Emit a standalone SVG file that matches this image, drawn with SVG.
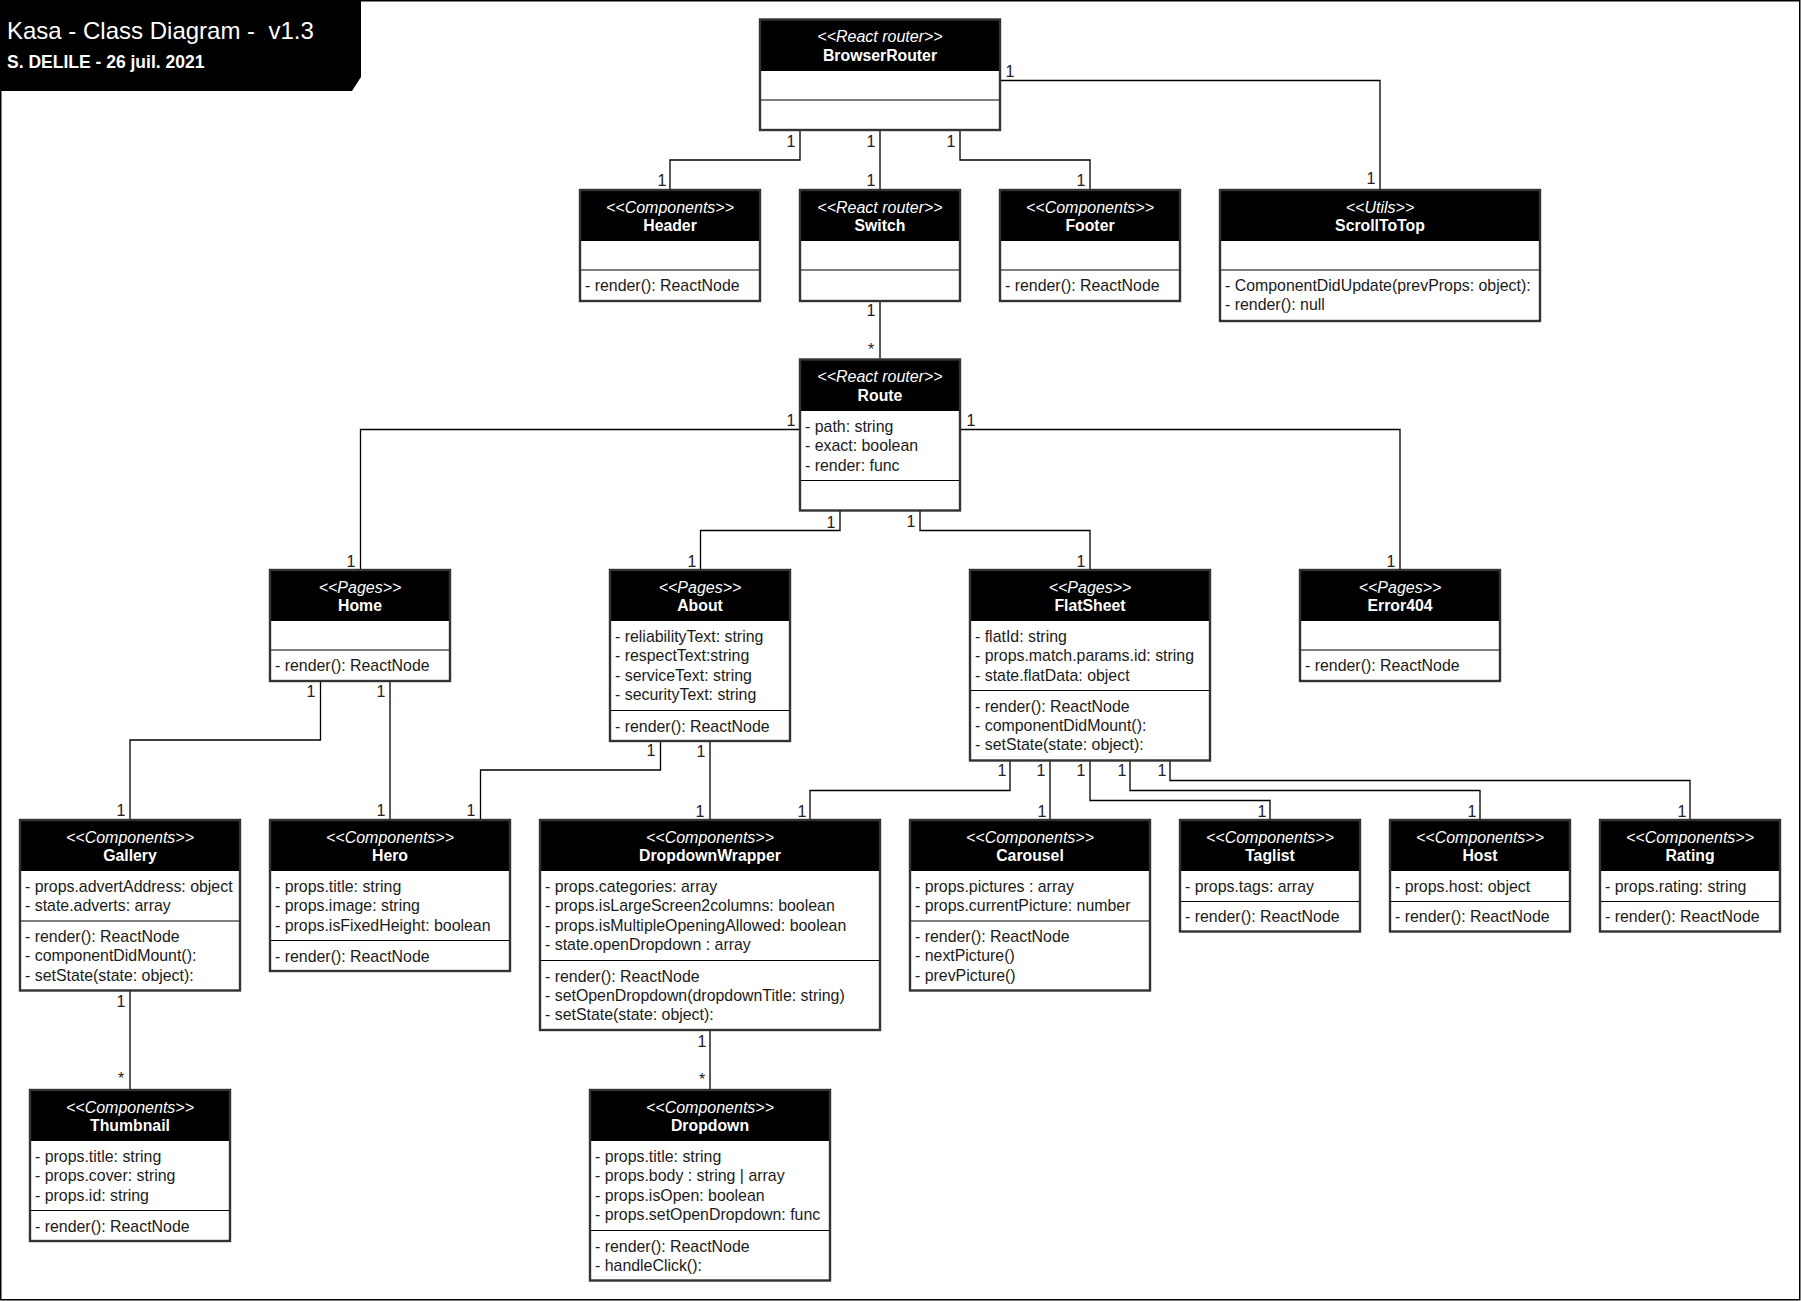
<svg xmlns="http://www.w3.org/2000/svg" width="1801" height="1301" viewBox="0 0 1801 1301">
  <style>
    .frame { fill: #fff; stroke: #000; stroke-width: 1.5; }
    .body { fill: #fff; }
    .hd { fill: #000; }
    .edge { fill: none; stroke: #333; stroke-width: 2.4; }
    .sep { stroke: #000; stroke-width: 1.2; }
    .st { font-family: "Liberation Sans", Arial, sans-serif; font-size: 16px; font-style: italic; fill: #fff; text-anchor: middle; }
    .nm { font-family: "Liberation Sans", Arial, sans-serif; font-size: 15.8px; font-weight: bold; fill: #fff; text-anchor: middle; }
    .mb { font-family: "Liberation Sans", Arial, sans-serif; font-size: 15.9px; fill: #1a1a1a; }
    .conn polyline { fill: none; stroke: #000; stroke-width: 1.3; }
    .mult { font-family: "Liberation Sans", Arial, sans-serif; font-size: 16px; fill: #222; text-anchor: middle; }
    .ttl { font-family: "Liberation Sans", Arial, sans-serif; fill: #fff; }
  </style>

  <!-- canvas frame -->
  <rect class="frame" x="0.75" y="0.75" width="1799" height="1299"/>

  <!-- title block -->
  <g id="title">
    <polygon points="0,0 361,0 361,77 352,91 0,91" fill="#000"/>
    <text class="ttl" x="7" y="39" font-size="24" xml:space="preserve">Kasa - Class Diagram -  v1.3</text>
    <text class="ttl" x="7" y="68" font-size="17.5" font-weight="bold">S. DELILE - 26 juil. 2021</text>
  </g>

  <!-- associations -->
  <g id="connectors" class="conn">
    <polyline points="800,130 800,160 670,160 670,190"/>
    <polyline points="880,130 880,190"/>
    <polyline points="960,130 960,160 1090,160 1090,190"/>
    <polyline points="1000,80.5 1380,80.5 1380,190"/>
    <polyline points="880,301 880,359.5"/>
    <polyline points="800,429.5 360.5,429.5 360.5,570"/>
    <polyline points="840,510.5 840,530.5 700.5,530.5 700.5,570"/>
    <polyline points="920,510.5 920,530.5 1090,530.5 1090,570"/>
    <polyline points="960,429.5 1400,429.5 1400,570"/>
    <polyline points="320.5,681 320.5,740 130,740 130,820"/>
    <polyline points="390,681 390,820"/>
    <polyline points="660.5,741 660.5,770 480.5,770 480.5,820"/>
    <polyline points="710,741 710,820"/>
    <polyline points="1010,760.5 1010,790.5 810,790.5 810,820"/>
    <polyline points="1050,760.5 1050,820"/>
    <polyline points="1090,760.5 1090,800.5 1270,800.5 1270,820"/>
    <polyline points="1130,760.5 1130,790.5 1480,790.5 1480,820"/>
    <polyline points="1170,760.5 1170,780.5 1690,780.5 1690,820"/>
    <polyline points="130,990.5 130,1090"/>
    <polyline points="710,1030 710,1090"/>

    <!-- multiplicities -->
    <text class="mult" x="791" y="147">1</text>
    <text class="mult" x="662" y="186">1</text>
    <text class="mult" x="871" y="147">1</text>
    <text class="mult" x="871" y="186">1</text>
    <text class="mult" x="951" y="147">1</text>
    <text class="mult" x="1081" y="186">1</text>
    <text class="mult" x="1010" y="77">1</text>
    <text class="mult" x="1371" y="184">1</text>
    <text class="mult" x="871" y="316">1</text>
    <text class="mult" x="871" y="355">*</text>
    <text class="mult" x="791" y="426">1</text>
    <text class="mult" x="351" y="567">1</text>
    <text class="mult" x="831" y="528">1</text>
    <text class="mult" x="692" y="567">1</text>
    <text class="mult" x="911" y="527">1</text>
    <text class="mult" x="1081" y="567">1</text>
    <text class="mult" x="971" y="426">1</text>
    <text class="mult" x="1391" y="567">1</text>
    <text class="mult" x="311" y="697">1</text>
    <text class="mult" x="121" y="816">1</text>
    <text class="mult" x="381" y="697">1</text>
    <text class="mult" x="381" y="816">1</text>
    <text class="mult" x="651" y="756">1</text>
    <text class="mult" x="471" y="816">1</text>
    <text class="mult" x="701" y="757">1</text>
    <text class="mult" x="700" y="817">1</text>
    <text class="mult" x="1002" y="776">1</text>
    <text class="mult" x="802" y="817">1</text>
    <text class="mult" x="1041" y="776">1</text>
    <text class="mult" x="1042" y="817">1</text>
    <text class="mult" x="1081" y="776">1</text>
    <text class="mult" x="1262" y="817">1</text>
    <text class="mult" x="1122" y="776">1</text>
    <text class="mult" x="1472" y="817">1</text>
    <text class="mult" x="1162" y="776">1</text>
    <text class="mult" x="1682" y="817">1</text>
    <text class="mult" x="121" y="1007">1</text>
    <text class="mult" x="121" y="1084">*</text>
    <text class="mult" x="702" y="1047">1</text>
    <text class="mult" x="702" y="1085">*</text>
  </g>

  <!-- BrowserRouter -->
  <g id="BrowserRouter">
    <rect class="body" x="760" y="19.5" width="240" height="110.5"/>
    <rect class="hd" x="760" y="19.5" width="240" height="51.5"/>
    <line class="sep" x1="760" y1="100" x2="1000" y2="100"/>
    <rect class="edge" x="760" y="19.5" width="240" height="110.5"/>
    <text class="st" x="880" y="42">&lt;&lt;React router&gt;&gt;</text>
    <text class="nm" x="880" y="61">BrowserRouter</text>
  </g>

  <!-- Header -->
  <g id="Header">
    <rect class="body" x="580" y="190" width="180" height="111"/>
    <rect class="hd" x="580" y="190" width="180" height="51"/>
    <line class="sep" x1="580" y1="270" x2="760" y2="270"/>
    <rect class="edge" x="580" y="190" width="180" height="111"/>
    <text class="st" x="670" y="212.7">&lt;&lt;Components&gt;&gt;</text>
    <text class="nm" x="670" y="231.3">Header</text>
    <text class="mb" x="585" y="291">- render(): ReactNode</text>
  </g>

  <!-- Switch -->
  <g id="Switch">
    <rect class="body" x="800" y="190" width="160" height="111"/>
    <rect class="hd" x="800" y="190" width="160" height="51"/>
    <line class="sep" x1="800" y1="270" x2="960" y2="270"/>
    <rect class="edge" x="800" y="190" width="160" height="111"/>
    <text class="st" x="880" y="212.7">&lt;&lt;React router&gt;&gt;</text>
    <text class="nm" x="880" y="231.3">Switch</text>
  </g>

  <!-- Footer -->
  <g id="Footer">
    <rect class="body" x="1000" y="190" width="180" height="111"/>
    <rect class="hd" x="1000" y="190" width="180" height="51"/>
    <line class="sep" x1="1000" y1="270" x2="1180" y2="270"/>
    <rect class="edge" x="1000" y="190" width="180" height="111"/>
    <text class="st" x="1090" y="212.7">&lt;&lt;Components&gt;&gt;</text>
    <text class="nm" x="1090" y="231.3">Footer</text>
    <text class="mb" x="1005" y="291">- render(): ReactNode</text>
  </g>

  <!-- ScrollToTop -->
  <g id="ScrollToTop">
    <rect class="body" x="1220" y="190" width="320" height="131"/>
    <rect class="hd" x="1220" y="190" width="320" height="51"/>
    <line class="sep" x1="1220" y1="270" x2="1540" y2="270"/>
    <rect class="edge" x="1220" y="190" width="320" height="131"/>
    <text class="st" x="1380" y="212.7">&lt;&lt;Utils&gt;&gt;</text>
    <text class="nm" x="1380" y="231.3">ScrollToTop</text>
    <text class="mb" x="1225" y="291">- ComponentDidUpdate(prevProps: object):</text>
    <text class="mb" x="1225" y="310.3">- render(): null</text>
  </g>

  <!-- Route -->
  <g id="Route">
    <rect class="body" x="800" y="359.5" width="160" height="151"/>
    <rect class="hd" x="800" y="359.5" width="160" height="51.5"/>
    <line class="sep" x1="800" y1="480.5" x2="960" y2="480.5"/>
    <rect class="edge" x="800" y="359.5" width="160" height="151"/>
    <text class="st" x="880" y="382.2">&lt;&lt;React router&gt;&gt;</text>
    <text class="nm" x="880" y="400.8">Route</text>
    <text class="mb" x="805" y="432">- path: string</text>
    <text class="mb" x="805" y="451.3">- exact: boolean</text>
    <text class="mb" x="805" y="470.6">- render: func</text>
  </g>

  <!-- Home -->
  <g id="Home">
    <rect class="body" x="270" y="570" width="180" height="111"/>
    <rect class="hd" x="270" y="570" width="180" height="51"/>
    <line class="sep" x1="270" y1="650" x2="450" y2="650"/>
    <rect class="edge" x="270" y="570" width="180" height="111"/>
    <text class="st" x="360" y="592.7">&lt;&lt;Pages&gt;&gt;</text>
    <text class="nm" x="360" y="611.3">Home</text>
    <text class="mb" x="275" y="671">- render(): ReactNode</text>
  </g>

  <!-- About -->
  <g id="About">
    <rect class="body" x="610" y="570" width="180" height="171"/>
    <rect class="hd" x="610" y="570" width="180" height="51"/>
    <line class="sep" x1="610" y1="710.5" x2="790" y2="710.5"/>
    <rect class="edge" x="610" y="570" width="180" height="171"/>
    <text class="st" x="700" y="592.7">&lt;&lt;Pages&gt;&gt;</text>
    <text class="nm" x="700" y="611.3">About</text>
    <text class="mb" x="615" y="642">- reliabilityText: string</text>
    <text class="mb" x="615" y="661.3">- respectText:string</text>
    <text class="mb" x="615" y="680.6">- serviceText: string</text>
    <text class="mb" x="615" y="699.9">- securityText: string</text>
    <text class="mb" x="615" y="731.5">- render(): ReactNode</text>
  </g>

  <!-- FlatSheet -->
  <g id="FlatSheet">
    <rect class="body" x="970" y="570" width="240" height="190.5"/>
    <rect class="hd" x="970" y="570" width="240" height="51"/>
    <line class="sep" x1="970" y1="690.5" x2="1210" y2="690.5"/>
    <rect class="edge" x="970" y="570" width="240" height="190.5"/>
    <text class="st" x="1090" y="592.7">&lt;&lt;Pages&gt;&gt;</text>
    <text class="nm" x="1090" y="611.3">FlatSheet</text>
    <text class="mb" x="975" y="642">- flatId: string</text>
    <text class="mb" x="975" y="661.3">- props.match.params.id: string</text>
    <text class="mb" x="975" y="680.6">- state.flatData: object</text>
    <text class="mb" x="975" y="711.5">- render(): ReactNode</text>
    <text class="mb" x="975" y="730.8">- componentDidMount():</text>
    <text class="mb" x="975" y="750.1">- setState(state: object):</text>
  </g>

  <!-- Error404 -->
  <g id="Error404">
    <rect class="body" x="1300" y="570" width="200" height="111"/>
    <rect class="hd" x="1300" y="570" width="200" height="51"/>
    <line class="sep" x1="1300" y1="650" x2="1500" y2="650"/>
    <rect class="edge" x="1300" y="570" width="200" height="111"/>
    <text class="st" x="1400" y="592.7">&lt;&lt;Pages&gt;&gt;</text>
    <text class="nm" x="1400" y="611.3">Error404</text>
    <text class="mb" x="1305" y="671">- render(): ReactNode</text>
  </g>

  <!-- Gallery -->
  <g id="Gallery">
    <rect class="body" x="20" y="820" width="220" height="170.5"/>
    <rect class="hd" x="20" y="820" width="220" height="51"/>
    <line class="sep" x1="20" y1="921" x2="240" y2="921"/>
    <rect class="edge" x="20" y="820" width="220" height="170.5"/>
    <text class="st" x="130" y="842.7">&lt;&lt;Components&gt;&gt;</text>
    <text class="nm" x="130" y="861.3">Gallery</text>
    <text class="mb" x="25" y="892">- props.advertAddress: object</text>
    <text class="mb" x="25" y="911.3">- state.adverts: array</text>
    <text class="mb" x="25" y="942">- render(): ReactNode</text>
    <text class="mb" x="25" y="961.3">- componentDidMount():</text>
    <text class="mb" x="25" y="980.6">- setState(state: object):</text>
  </g>

  <!-- Hero -->
  <g id="Hero">
    <rect class="body" x="270" y="820" width="240" height="151"/>
    <rect class="hd" x="270" y="820" width="240" height="51"/>
    <line class="sep" x1="270" y1="940.5" x2="510" y2="940.5"/>
    <rect class="edge" x="270" y="820" width="240" height="151"/>
    <text class="st" x="390" y="842.7">&lt;&lt;Components&gt;&gt;</text>
    <text class="nm" x="390" y="861.3">Hero</text>
    <text class="mb" x="275" y="892">- props.title: string</text>
    <text class="mb" x="275" y="911.3">- props.image: string</text>
    <text class="mb" x="275" y="930.6">- props.isFixedHeight: boolean</text>
    <text class="mb" x="275" y="961.5">- render(): ReactNode</text>
  </g>

  <!-- DropdownWrapper -->
  <g id="DropdownWrapper">
    <rect class="body" x="540" y="820" width="340" height="210"/>
    <rect class="hd" x="540" y="820" width="340" height="51"/>
    <line class="sep" x1="540" y1="960.5" x2="880" y2="960.5"/>
    <rect class="edge" x="540" y="820" width="340" height="210"/>
    <text class="st" x="710" y="842.7">&lt;&lt;Components&gt;&gt;</text>
    <text class="nm" x="710" y="861.3">DropdownWrapper</text>
    <text class="mb" x="545" y="892">- props.categories: array</text>
    <text class="mb" x="545" y="911.3">- props.isLargeScreen2columns: boolean</text>
    <text class="mb" x="545" y="930.6">- props.isMultipleOpeningAllowed: boolean</text>
    <text class="mb" x="545" y="949.9">- state.openDropdown : array</text>
    <text class="mb" x="545" y="981.5">- render(): ReactNode</text>
    <text class="mb" x="545" y="1000.8">- setOpenDropdown(dropdownTitle: string)</text>
    <text class="mb" x="545" y="1020.1">- setState(state: object):</text>
  </g>

  <!-- Carousel -->
  <g id="Carousel">
    <rect class="body" x="910" y="820" width="240" height="170.5"/>
    <rect class="hd" x="910" y="820" width="240" height="51"/>
    <line class="sep" x1="910" y1="921" x2="1150" y2="921"/>
    <rect class="edge" x="910" y="820" width="240" height="170.5"/>
    <text class="st" x="1030" y="842.7">&lt;&lt;Components&gt;&gt;</text>
    <text class="nm" x="1030" y="861.3">Carousel</text>
    <text class="mb" x="915" y="892">- props.pictures : array</text>
    <text class="mb" x="915" y="911.3">- props.currentPicture: number</text>
    <text class="mb" x="915" y="942">- render(): ReactNode</text>
    <text class="mb" x="915" y="961.3">- nextPicture()</text>
    <text class="mb" x="915" y="980.6">- prevPicture()</text>
  </g>

  <!-- Taglist -->
  <g id="Taglist">
    <rect class="body" x="1180" y="820" width="180" height="111.5"/>
    <rect class="hd" x="1180" y="820" width="180" height="51"/>
    <line class="sep" x1="1180" y1="901.5" x2="1360" y2="901.5"/>
    <rect class="edge" x="1180" y="820" width="180" height="111.5"/>
    <text class="st" x="1270" y="842.7">&lt;&lt;Components&gt;&gt;</text>
    <text class="nm" x="1270" y="861.3">Taglist</text>
    <text class="mb" x="1185" y="892">- props.tags: array</text>
    <text class="mb" x="1185" y="922">- render(): ReactNode</text>
  </g>

  <!-- Host -->
  <g id="Host">
    <rect class="body" x="1390" y="820" width="180" height="111.5"/>
    <rect class="hd" x="1390" y="820" width="180" height="51"/>
    <line class="sep" x1="1390" y1="901.5" x2="1570" y2="901.5"/>
    <rect class="edge" x="1390" y="820" width="180" height="111.5"/>
    <text class="st" x="1480" y="842.7">&lt;&lt;Components&gt;&gt;</text>
    <text class="nm" x="1480" y="861.3">Host</text>
    <text class="mb" x="1395" y="892">- props.host: object</text>
    <text class="mb" x="1395" y="922">- render(): ReactNode</text>
  </g>

  <!-- Rating -->
  <g id="Rating">
    <rect class="body" x="1600" y="820" width="180" height="111.5"/>
    <rect class="hd" x="1600" y="820" width="180" height="51"/>
    <line class="sep" x1="1600" y1="901.5" x2="1780" y2="901.5"/>
    <rect class="edge" x="1600" y="820" width="180" height="111.5"/>
    <text class="st" x="1690" y="842.7">&lt;&lt;Components&gt;&gt;</text>
    <text class="nm" x="1690" y="861.3">Rating</text>
    <text class="mb" x="1605" y="892">- props.rating: string</text>
    <text class="mb" x="1605" y="922">- render(): ReactNode</text>
  </g>

  <!-- Thumbnail -->
  <g id="Thumbnail">
    <rect class="body" x="30" y="1090" width="200" height="151"/>
    <rect class="hd" x="30" y="1090" width="200" height="51"/>
    <line class="sep" x1="30" y1="1210.5" x2="230" y2="1210.5"/>
    <rect class="edge" x="30" y="1090" width="200" height="151"/>
    <text class="st" x="130" y="1112.7">&lt;&lt;Components&gt;&gt;</text>
    <text class="nm" x="130" y="1131.3">Thumbnail</text>
    <text class="mb" x="35" y="1162">- props.title: string</text>
    <text class="mb" x="35" y="1181.3">- props.cover: string</text>
    <text class="mb" x="35" y="1200.6">- props.id: string</text>
    <text class="mb" x="35" y="1231.5">- render(): ReactNode</text>
  </g>

  <!-- Dropdown -->
  <g id="Dropdown">
    <rect class="body" x="590" y="1090" width="240" height="190.5"/>
    <rect class="hd" x="590" y="1090" width="240" height="51"/>
    <line class="sep" x1="590" y1="1230.5" x2="830" y2="1230.5"/>
    <rect class="edge" x="590" y="1090" width="240" height="190.5"/>
    <text class="st" x="710" y="1112.7">&lt;&lt;Components&gt;&gt;</text>
    <text class="nm" x="710" y="1131.3">Dropdown</text>
    <text class="mb" x="595" y="1162">- props.title: string</text>
    <text class="mb" x="595" y="1181.3">- props.body : string | array</text>
    <text class="mb" x="595" y="1200.6">- props.isOpen: boolean</text>
    <text class="mb" x="595" y="1219.9">- props.setOpenDropdown: func</text>
    <text class="mb" x="595" y="1251.5">- render(): ReactNode</text>
    <text class="mb" x="595" y="1270.8">- handleClick():</text>
  </g>
</svg>
